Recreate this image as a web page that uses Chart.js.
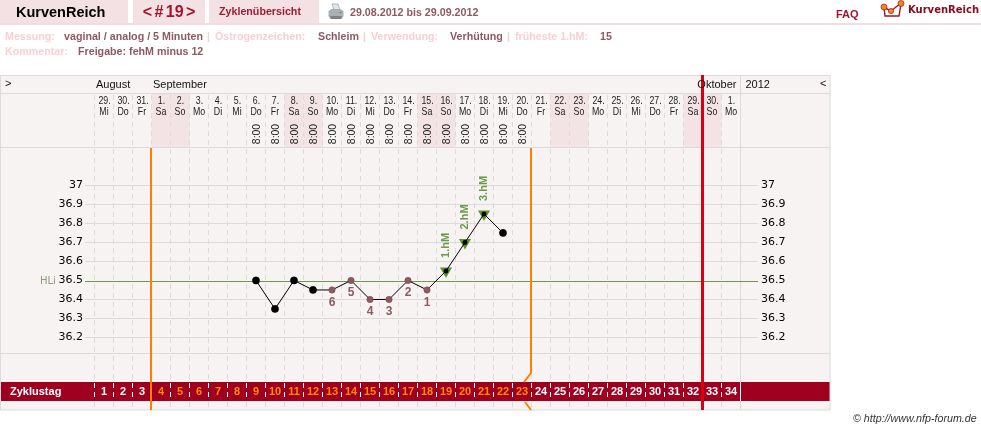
<!DOCTYPE html>
<html lang="de">
<head>
<meta charset="utf-8">
<title>KurvenReich – Zyklus 19</title>
<script src="https://cdn.jsdelivr.net/npm/chart.js@4"></script>
<style>
  html, body { margin: 0; padding: 0; background: #fff; }
  body { position: relative; width: 981px; height: 430px; overflow: hidden;
         font: bold 10.7px "Liberation Sans", Arial, sans-serif; }
  canvas { position: absolute; left: 0; top: 0; }
  .tab { position: absolute; top: 0; height: 23px; background: #f3e1e3; line-height: 23px; text-align: center; box-sizing: border-box; }
  .rule { position: absolute; left: 0; top: 23px; width: 981px; height: 2px; background: #f3dcdf; }
  .t { position: absolute; white-space: nowrap; line-height: 14px; }
  .key { color: #f8cfd2; }
  .val { color: #8c5a60; }
</style>
</head>
<body>
<canvas id="cycle" width="981" height="430"></canvas>

<div class="tab" style="left:0;width:128px"></div>
<div class="t" style="left:16px;top:5px;color:#000;font-size:14.5px">KurvenReich</div>
<div class="tab" style="left:133px;width:72px;color:#a5122c;font-size:16px;word-spacing:-2px">&lt; # 19 &gt;</div>
<div class="tab" style="left:209px;width:110px;color:#a01c30;text-align:left;padding-left:10px">Zyklenübersicht</div>
<div class="rule"></div>

<svg style="position:absolute;left:327px;top:3px" width="18" height="18" viewBox="0 0 18 18">
  <path d="M5 1h6l2 6H7z" fill="#dfe6ea" stroke="#9aa4aa" stroke-width=".7"/>
  <path d="M1.5 8l3-2h9l3 2v5l-2 3H3.5l-2-3z" fill="#aab0b4"/>
  <path d="M3 13h12l-1 3H4z" fill="#7d8489"/>
  <rect x="12.5" y="9" width="2" height="1" fill="#4c9a4c"/>
</svg>
<div class="t val" style="left:350px;top:5px">29.08.2012 bis 29.09.2012</div>

<div class="t" style="left:836px;top:7px;color:#a5122c;font-size:11px">FAQ</div>
<svg style="position:absolute;left:880px;top:0" width="26" height="20" viewBox="0 0 26 20">
  <path d="M4 7l1 9h14l2-12" fill="none" stroke="#a5122c" stroke-width="1.4"/>
  <path d="M3 7l8 4 10-8" fill="none" stroke="#a5122c" stroke-width="1.4"/>
  <circle cx="4" cy="7" r="3" fill="#f08a10" stroke="#a5122c" stroke-width=".7"/>
  <circle cx="11" cy="11" r="2.6" fill="#f08a10" stroke="#a5122c" stroke-width=".7"/>
  <circle cx="21" cy="3.5" r="3" fill="#f08a10" stroke="#a5122c" stroke-width=".7"/>
</svg>
<div class="t" style="left:908px;top:3px;color:#8c0a20;font:bold 10px/14px 'DejaVu Sans',sans-serif">KurvenReich</div>

<div class="t key" style="left:5px;top:29px">Messung:</div>
<div class="t val" style="left:64px;top:29px">vaginal / analog / 5 Minuten</div>
<div class="t key" style="left:207px;top:29px">|</div>
<div class="t key" style="left:215px;top:29px">Östrogenzeichen:</div>
<div class="t val" style="left:318px;top:29px">Schleim</div>
<div class="t key" style="left:363px;top:29px">|</div>
<div class="t key" style="left:371px;top:29px">Verwendung:</div>
<div class="t val" style="left:450px;top:29px">Verhütung</div>
<div class="t key" style="left:507px;top:29px">|</div>
<div class="t key" style="left:515px;top:29px">früheste 1.hM:</div>
<div class="t val" style="left:600px;top:29px">15</div>
<div class="t key" style="left:5px;top:44px">Kommentar:</div>
<div class="t val" style="left:78px;top:44px">Freigabe: fehM minus 12</div>

<div class="t" style="left:853px;top:411px;color:#333;font:italic 10.7px/14px 'Liberation Sans',Arial,sans-serif">© http://www.nfp-forum.de</div>

<script>
// Cycle days 1 to 34 with their calendar date and weekday
const cycleDays = [1,2,3,4,5,6,7,8,9,10,11,12,13,14,15,16,17,18,19,20,21,22,23,24,25,26,27,28,29,30,31,32,33,34];
const dateNumbers = [29,30,31,1,2,3,4,5,6,7,8,9,10,11,12,13,14,15,16,17,18,19,20,21,22,23,24,25,26,27,28,29,30,1];
const weekdays = ['Mi','Do','Fr','Sa','So','Mo','Di','Mi','Do','Fr','Sa','So','Mo','Di','Mi','Do','Fr','Sa','So','Mo','Di','Mi','Do','Fr','Sa','So','Mo','Di','Mi','Do','Fr','Sa','So','Mo'];

// Basal temperature per cycle day, null where nothing was measured
const temperatures = [null,null,null,null,null,null,null,null,36.5,36.35,36.5,36.45,36.45,36.5,36.4,36.4,36.5,36.45,36.55,36.7,36.85,36.75,null,null,null,null,null,null,null,null,null,null,null,null];
// The six low readings, numbered backwards from the shift
const lowCycleDays = [18,17,16,15,14,13];
// The three high readings
const highCycleDays = [19,20,21];
const highLabels = ['1.hM','2.hM','3.hM'];
const highTemperatures = cycleDays.map(d => highCycleDays.includes(d) ? temperatures[d - 1] : null);
// Cycle days whose reading time is listed
const timedCycleDays = [9,10,11,12,13,14,15,16,17,18,19,20,21,22,23];
const measureTime = '8:00';
// Fertile window limits: after these cycle days
const fertileStart = 3;
const fertileEnd = 23;
const cycleEnd = 32;
const coverLine = 36.5;
const temperatureTicks = [36.2,36.3,36.4,36.5,36.6,36.7,36.8,36.9,37];
const monthLabels = [['August',1],['September',4],['Oktober',33]];
const yearLabel = '2012';

const FRAME = '#dcdada', PANEL = '#f8f3f3', WEEKEND = '#f3e3e5', BAND = '#a0001f';
const ORANGE = '#ff8000', RED = '#d80012', BROWN = '#8c5a60', GREEN = '#6c9a48';
const SANS = '"Liberation Sans",Arial,sans-serif';
const PANEL_TOP = 75, ROW_DAYS = 93, ROW_PLOT = 148, ROW_FOOT = 353.5, BAND_TOP = 382, BAND_BOTTOM = 401, PANEL_BOTTOM = 410, PANEL_RIGHT = 830;

function hline(ctx, x0, x1, y) { ctx.beginPath(); ctx.moveTo(x0, y); ctx.lineTo(x1, y); ctx.stroke(); }
function vline(ctx, x, y0, y1) { ctx.beginPath(); ctx.moveTo(x, y0); ctx.lineTo(x, y1); ctx.stroke(); }

// Text squeezed horizontally, for the tight day columns
function squeezed(ctx, text, x, y, factor) {
  ctx.save();
  ctx.translate(x, y);
  ctx.scale(factor, 1);
  ctx.fillText(text, 0, 0);
  ctx.restore();
}

// Panel background, weekend columns, day separators and the Zyklustag band
const panelPlugin = {
  id: 'panel',
  beforeDraw(chart) {
    const { ctx, scales: { x } } = chart;
    const half = (x.getPixelForValue(1) - x.getPixelForValue(0)) / 2;
    ctx.save();
    ctx.fillStyle = PANEL;
    ctx.fillRect(0, PANEL_TOP, PANEL_RIGHT, PANEL_BOTTOM - PANEL_TOP);

    ctx.fillStyle = WEEKEND;
    weekdays.forEach((d, i) => {
      if (d === 'Sa' || d === 'So') {
        ctx.fillRect(x.getPixelForValue(i) - half, ROW_DAYS + 1, half * 2, ROW_PLOT - ROW_DAYS - 1);
      }
    });

    ctx.fillStyle = BAND;
    ctx.fillRect(1, BAND_TOP, PANEL_RIGHT - 1, BAND_BOTTOM - BAND_TOP);

    ctx.lineWidth = 1;
    ctx.strokeStyle = FRAME;
    ctx.strokeRect(0.5, PANEL_TOP + 0.5, PANEL_RIGHT - 0.5, PANEL_BOTTOM - PANEL_TOP - 0.5);
    hline(ctx, 0, PANEL_RIGHT, ROW_DAYS + 0.5);
    hline(ctx, 0, PANEL_RIGHT, ROW_PLOT - 0.5);
    hline(ctx, 0, PANEL_RIGHT, ROW_FOOT);
    const yearEdge = x.getPixelForValue(cycleDays.length - 1) + half;
    vline(ctx, yearEdge, PANEL_TOP, ROW_PLOT);
    vline(ctx, yearEdge, ROW_PLOT, BAND_TOP);
    vline(ctx, yearEdge, BAND_BOTTOM, PANEL_BOTTOM);
    ctx.strokeStyle = '#fff';
    vline(ctx, yearEdge, BAND_TOP, BAND_BOTTOM);

    // Dashed separators between the days, starting below the month row
    ctx.setLineDash([5, 4]);
    for (let i = 0; i < cycleDays.length; i++) {
      const px = x.getPixelForValue(i) - half;
      ctx.strokeStyle = FRAME;
      vline(ctx, px, ROW_DAYS + 2, BAND_TOP);
      vline(ctx, px, BAND_BOTTOM + 1, PANEL_BOTTOM);
      ctx.strokeStyle = '#fff';
      vline(ctx, px, BAND_TOP + 1, BAND_BOTTOM);
    }
    ctx.restore();

    ctx.save();
    ctx.fillStyle = '#fff';
    ctx.font = 'bold 11px ' + SANS;
    ctx.textBaseline = 'middle';
    ctx.fillText('Zyklustag', 10, (BAND_TOP + BAND_BOTTOM) / 2 + 0.5);
    ctx.restore();
  },
  // Fertile window limits, the cycle end marker and the remaining text
  beforeDatasetsDraw(chart) {
    const { ctx, scales: { x, y } } = chart;
    const half = (x.getPixelForValue(1) - x.getPixelForValue(0)) / 2;
    const edge = d => x.getPixelForValue(d - 1) + half;
    ctx.save();

    ctx.strokeStyle = GREEN;
    ctx.lineWidth = 1;
    const lineY = Math.round(y.getPixelForValue(coverLine) + 1) + 0.5;
    hline(ctx, x.left - 9.5, x.right + 17.5, lineY);

    ctx.strokeStyle = ORANGE;
    ctx.lineWidth = 2;
    vline(ctx, edge(fertileStart) - 0.5, ROW_PLOT, PANEL_BOTTOM);
    const endX = edge(fertileEnd) - 0.5;
    ctx.beginPath();
    ctx.moveTo(endX, ROW_PLOT);
    ctx.lineTo(endX, 373);
    ctx.lineTo(endX - 7, BAND_TOP);
    ctx.moveTo(endX - 6, BAND_BOTTOM + 1);
    ctx.lineTo(endX, PANEL_BOTTOM);
    ctx.stroke();

    ctx.strokeStyle = RED;
    ctx.lineWidth = 3;
    vline(ctx, edge(cycleEnd), PANEL_TOP, PANEL_BOTTOM);

    ctx.fillStyle = '#111';
    ctx.font = '11px ' + SANS;
    ctx.textBaseline = 'middle';
    const monthY = (PANEL_TOP + ROW_DAYS) / 2 + 0.5;
    monthLabels.forEach(([name, day], k) => {
      if (k === monthLabels.length - 1) {
        ctx.textAlign = 'right';
        ctx.fillText(name, x.getPixelForValue(day) + half - 4, monthY);
      } else {
        ctx.textAlign = 'left';
        ctx.fillText(name, x.getPixelForValue(day - 1) - half + 1.5, monthY);
      }
    });
    ctx.textAlign = 'left';
    ctx.fillText(yearLabel, x.right + 5, monthY);
    ctx.fillText('>', 5, monthY - 1);
    ctx.fillText('<', 820, monthY - 1);

    // Date and weekday of every column
    ctx.textAlign = 'center';
    ctx.fillStyle = '#222';
    dateNumbers.forEach((n, i) => {
      const px = x.getPixelForValue(i);
      squeezed(ctx, n + '.', px + 0.5, 101, 0.8);
      squeezed(ctx, weekdays[i], px, 111.5, 0.8);
    });

    // Reading times, turned to run upwards
    timedCycleDays.forEach(d => {
      ctx.save();
      ctx.translate(x.getPixelForValue(d - 1), 134);
      ctx.rotate(-Math.PI / 2);
      ctx.scale(0.95, 1);
      ctx.fillText(measureTime, 0, 0.5);
      ctx.restore();
    });

    ctx.fillStyle = '#8c9a82';
    ctx.font = '10px "DejaVu Sans",sans-serif';
    ctx.textAlign = 'left';
    ctx.fillText('HLi', 40, lineY);
    ctx.restore();
  },
  // Numbered low readings and the labels of the high readings
  afterDatasetsDraw(chart) {
    const { ctx, scales: { x, y } } = chart;
    ctx.save();
    ctx.textAlign = 'center';
    ctx.textBaseline = 'middle';
    ctx.fillStyle = BROWN;
    ctx.font = 'bold 12px ' + SANS;
    lowCycleDays.forEach((d, k) => {
      ctx.fillText(String(k + 1), x.getPixelForValue(d - 1), y.getPixelForValue(temperatures[d - 1]) + 12.5);
    });
    ctx.fillStyle = GREEN;
    ctx.font = 'bold 11px ' + SANS;
    highCycleDays.forEach((d, k) => {
      ctx.save();
      ctx.translate(x.getPixelForValue(d - 1), y.getPixelForValue(temperatures[d - 1]) - 25.5);
      ctx.rotate(-Math.PI / 2);
      ctx.fillText(highLabels[k], 0, 0);
      ctx.restore();
    });
    ctx.restore();
  }
};

const sizeTo = (prop, value) => scale => { scale[prop] = value; };
const tickFont = { family: '"DejaVu Sans",sans-serif', size: 11 };
const keepTicks = scale => { scale.ticks = temperatureTicks.map(value => ({ value })); };

new Chart(document.getElementById('cycle'), {
  type: 'line',
  data: {
    labels: cycleDays,
    datasets: [
      {
        // Temperature curve with black, or brown for the low readings, dots
        data: temperatures,
        order: 1,
        borderColor: '#000',
        borderWidth: 1,
        tension: 0,
        spanGaps: false,
        pointRadius: c => highCycleDays.includes(c.dataIndex + 1) ? 2.2 : lowCycleDays.includes(c.dataIndex + 1) ? 3.2 : 3.6,
        pointBackgroundColor: c => lowCycleDays.includes(c.dataIndex + 1) ? BROWN : '#000',
        pointBorderColor: c => lowCycleDays.includes(c.dataIndex + 1) ? '#7a4a50' : '#000',
        pointBorderWidth: 0.5
      },
      {
        // Green marks behind the three high readings
        data: highTemperatures,
        order: 2,
        showLine: false,
        pointStyle: 'triangle',
        rotation: 180,
        pointRadius: 7,
        pointBackgroundColor: '#5f9430',
        pointBorderColor: '#5f9430',
        pointBorderWidth: 0
      }
    ]
  },
  options: {
    responsive: false,
    animation: false,
    events: [],
    layout: { padding: 0 },
    plugins: { legend: { display: false }, tooltip: { enabled: false } },
    scales: {
      x: {
        type: 'category',
        position: 'bottom',
        offset: true,
        afterFit: sizeTo('height', 430 - ROW_FOOT),
        grid: { display: false },
        border: { display: false },
        ticks: {
          autoSkip: false, maxRotation: 0, minRotation: 0, padding: 24,
          font: { family: SANS, size: 11, weight: 'bold' },
          color: c => (c.index >= fertileStart && c.index < fertileEnd) ? '#ff8a00' : '#fff'
        }
      },
      days: {
        type: 'category',
        position: 'top',
        offset: true,
        labels: dateNumbers.map(n => n + '.'),
        afterFit: sizeTo('height', ROW_PLOT),
        grid: { display: false },
        border: { display: false },
        ticks: { display: false }
      },
      y: {
        position: 'left',
        min: 36.1155,
        max: 37.1973,
        afterBuildTicks: keepTicks,
        afterFit: sizeTo('width', 94.5),
        border: { display: false },
        grid: { color: c => c.tick.value === coverLine ? 'transparent' : FRAME, tickLength: 9.5 },
        ticks: { color: '#000', font: tickFont, padding: 2, callback: v => String(v) }
      },
      yRight: {
        position: 'right',
        min: 36.1155,
        max: 37.1973,
        afterBuildTicks: keepTicks,
        afterFit: sizeTo('width', 981 - 740.5),
        border: { display: false },
        grid: { drawOnChartArea: false, color: c => c.tick.value === coverLine ? 'transparent' : FRAME, tickLength: 17.5 },
        ticks: { color: '#000', font: tickFont, padding: 3, callback: v => String(v) }
      }
    }
  },
  plugins: [panelPlugin]
});
</script>
</body>
</html>
